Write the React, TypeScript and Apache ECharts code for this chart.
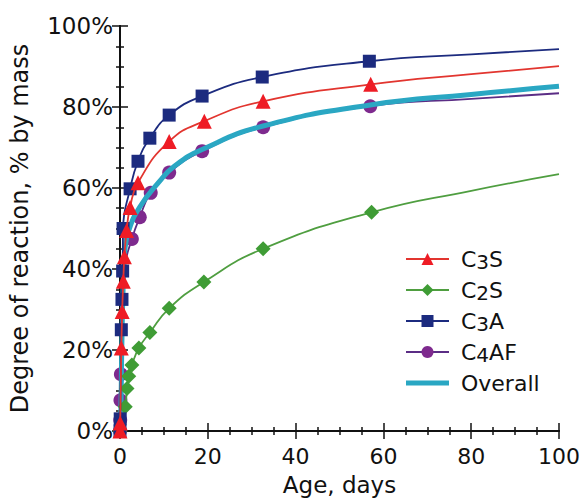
import React, { useEffect, useRef } from 'react';
import * as echarts from 'echarts';

// Legend order
const seriesNames = ['C3S', 'C2S', 'C3A', 'C4AF', 'Overall'];

// Marker points [age in days, degree of reaction %]
const c3sMarkers = [[0, 0], [0.05, 2], [0.3, 20.5], [0.5, 29.5], [0.75, 37], [1.0, 43], [1.5, 49.5], [2.3, 55.2], [4.1, 61.3], [11.2, 71.5], [19.2, 76.5], [32.6, 81.4], [57.1, 85.6]];
const c2sMarkers = [[0, 0], [1.2, 6], [1.6, 10.5], [2.0, 13.5], [2.7, 16.3], [4.3, 20.5], [6.8, 24.3], [11.2, 30.3], [19.1, 36.8], [32.6, 45.0], [57.3, 54.0]];
const c3aMarkers = [[0, 0], [0.05, 3], [0.3, 25], [0.45, 32.5], [0.6, 39.5], [0.7, 50], [2.3, 59.8], [4.1, 66.6], [6.8, 72.3], [11.2, 78], [18.7, 82.7], [32.4, 87.4], [56.8, 91.3]];
const c4afMarkers = [[0, 0], [0.05, 2.7], [0.1, 7.6], [0.2, 14], [2.7, 47.4], [4.5, 52.8], [7.0, 58.8], [11.2, 63.8], [18.7, 69.1], [32.6, 75.0], [57.0, 80.2]];

// Points of the fitted curves read off the picture where there is no marker
const c3sCurve = [[80, 88.1], [100, 90.1]];
const c2sCurve = [[80, 59.3], [100, 63.4]];
const c3aCurve = [[80, 93.0], [100, 94.3]];
const c4afCurve = [[0.5, 28], [1.2, 41], [80, 82.0], [100, 83.4]];
const overallCurve = [[0, 0], [0.2, 5], [0.4, 20], [0.7, 35], [1.1, 44.5], [2, 49.5], [4.5, 55.3], [8.9, 61.5], [12.3, 65.3], [18.7, 69.5], [32.6, 75.3], [57, 80.5], [80, 83.1], [100, 85.1]];

// Axis ticks
const xMin = 0, xMax = 100, xStep = 20;
const yMin = 0, yMax = 100, yStep = 20;

const FONT = 'DejaVu Sans';

function build(markers: number[][], curve: number[][]) {
  const pts: any[] = [];
  markers.forEach((p) => pts.push({ value: p }));
  curve.forEach((p) => pts.push({ value: p, symbol: 'none' }));
  pts.sort((a, b) => a.value[0] - b.value[0] || a.value[1] - b.value[1]);
  return pts;
}

export default function App() {
  const ref = useRef<HTMLDivElement>(null);
  useEffect(() => {
    if (!ref.current) return;
    const chart = echarts.init(ref.current, null, { renderer: 'svg' });
    const axisLine = { show: true, lineStyle: { color: '#111', width: 2 } };
    const axisTick = { show: true, inside: true, length: 8, lineStyle: { color: '#111', width: 1.5 } };
    const minorTick = { show: true, splitNumber: 4, length: 4, lineStyle: { color: '#111', width: 1.5 } };
    const lineSeries = (name: string, data: any[], symbol: string, size: number, mColor: string, lColor: string, lw: number, z: number) => ({
      name,
      type: 'line',
      data,
      symbol,
      symbolSize: size,
      showSymbol: true,
      smooth: 0.5,
      z,
      itemStyle: { color: mColor },
      lineStyle: { color: lColor, width: lw },
    });
    const option: any = {
      animation: false,
      backgroundColor: '#fff',
      grid: { left: 117, right: 25, top: 26, bottom: 71 },
      textStyle: { fontFamily: FONT },
      legend: {
        data: [
          ...seriesNames.slice(0, 4),
          { name: 'Overall', icon: 'path://M0,0H43V5H0Z' },
        ],
        orient: 'vertical',
        left: 400,
        top: 243,
        itemWidth: 43,
        itemHeight: 15,
        itemGap: 7,
        formatter: (n: string) => {
          const m = n.match(/^C(\d)(.*)$/);
          return m ? `{a|C}{s|${m[1]}}{a|${m[2]}}` : `{a|${n}}`;
        },
        textStyle: {
          fontFamily: FONT,
          fontSize: 22,
          color: '#111',
          padding: [0, 0, 0, 7],
          rich: {
            a: { fontFamily: FONT, fontSize: 22, color: '#111' },
            s: { fontFamily: FONT, fontSize: 20, color: '#111', padding: [6, 0, 0, 0] },
          },
        },
      },
      xAxis: [
        {
          type: 'value', min: xMin, max: xMax, interval: xStep, position: 'bottom',
          name: 'Age, days', nameLocation: 'middle', nameGap: 42,
          nameTextStyle: { fontFamily: FONT, fontSize: 23, color: '#111' },
          axisLine, axisTick, minorTick,
          axisLabel: { fontFamily: FONT, fontSize: 22, color: '#111', margin: 14 },
          splitLine: { show: false },
        },
        {
          type: 'value', min: xMin, max: xMax, interval: xStep, position: 'top',
          axisLine, axisTick, minorTick,
          axisLabel: { show: false }, splitLine: { show: false },
        },
      ],
      yAxis: [
        {
          type: 'value', min: yMin, max: yMax, interval: yStep, position: 'left',
          name: 'Degree of reaction, % by mass', nameLocation: 'middle', nameGap: 88,
          nameTextStyle: { fontFamily: FONT, fontSize: 24, color: '#111' },
          axisLine, axisTick, minorTick,
          axisLabel: { fontFamily: FONT, fontSize: 23, color: '#111', margin: 7, formatter: '{value}%' },
          splitLine: { show: false },
        },
        {
          type: 'value', min: yMin, max: yMax, interval: yStep, position: 'right',
          axisLine, axisTick, minorTick,
          axisLabel: { show: false }, splitLine: { show: false },
        },
      ],
      series: [
        lineSeries('C4AF', build(c4afMarkers, c4afCurve), 'circle', 14, '#7e2a8e', '#5b2d85', 1.8, 2),
        { ...lineSeries('Overall', build([], overallCurve), 'none', 0, '#2aa7c3', '#2aa7c3', 5, 3), showSymbol: false },
        lineSeries('C2S', build(c2sMarkers, c2sCurve), 'diamond', 15, '#3f9c35', '#4f9e40', 1.8, 4),
        lineSeries('C3A', build(c3aMarkers, c3aCurve), 'rect', 13, '#1c2b7f', '#1c2b7f', 1.8, 5),
        lineSeries('C3S', build(c3sMarkers, c3sCurve), 'triangle', 15, '#ee1c25', '#e2352f', 1.8, 6),
      ],
    };
    chart.setOption(option);
    return () => chart.dispose();
  }, []);
  return <div ref={ref} style={{ position: 'fixed', left: 0, top: 0, width: 584, height: 502 }} />;
}
